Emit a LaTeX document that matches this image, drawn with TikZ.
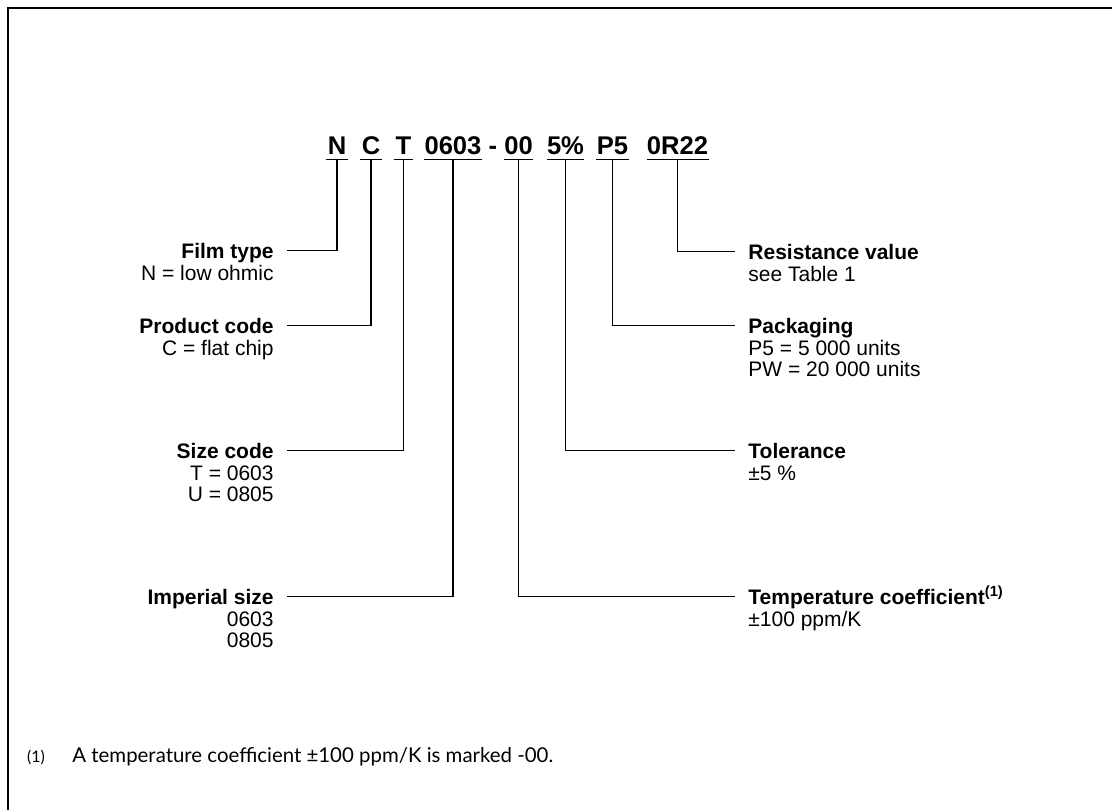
\documentclass[tikz,border=0pt]{standalone}
\usepackage{fontspec}
\setmainfont{Liberation Sans}
\newfontfamily\notefont{Lato}
\usetikzlibrary{positioning}
\begin{document}
\begin{tikzpicture}[x=0.5pt, y=-0.5pt,
    code/.style={font=\fontsize{12.8}{14}\selectfont\bfseries, inner sep=0pt, text depth=2.5pt, anchor=base},
    ttl/.style={font=\fontsize{10.5}{10.5}\selectfont\bfseries, inner xsep=6.5pt, inner ysep=0pt, text height=7.6pt, text depth=0pt},
    sub/.style={font=\fontsize{10.5}{10.5}\selectfont, inner xsep=6.5pt, inner ysep=0pt},
    lead/.style={line width=0.6pt},
]
    \useasboundingbox (0,0) rectangle (1112,810);
    % frame
    \draw[line width=1pt] (1112,8) -- (8,8) -- (8,810);

    % part number
    \node[code, minimum width=11pt] (N) at (337,154) {N};
    \node[code, minimum width=11pt] (C) at (371,154) {C};
    \node[code, minimum width=9.5pt] (T) at (403.5,154) {T};
    \node[code, minimum width=28pt] (size) at (453,154) {0603};
    \node[code] (hyph) at (493,154) {-};
    \node[code, minimum width=14.5pt] (tc) at (518.5,154) {00};
    \node[code, minimum width=17.5pt] (tol) at (565.5,154) {5\%};
    \node[code, minimum width=15.5pt] (pack) at (612.5,154) {P5};
    \node[code, minimum width=30.5pt] (res) at (677.5,154) {0R22};
    \foreach \p in {N,C,T,size,tc,tol,pack,res}
        \draw[line width=0.75pt] (\p.south west) -- (\p.south east);

    % left labels
    \node[ttl, anchor=base east] (film) at (287,258) {Film type};
    \node[sub, align=right, below left=3.4pt and 0pt of film.south east] (film-sub) {N = low ohmic};
    \node[ttl, anchor=base east] (prod) at (287,333) {Product code};
    \node[sub, align=right, below left=3.4pt and 0pt of prod.south east] (prod-sub) {C = flat chip};
    \node[ttl, anchor=base east] (sizec) at (287,458) {Size code};
    \node[sub, align=right, below left=3.4pt and 0pt of sizec.south east] (sizec-sub) {T = 0603\\U = 0805};
    \node[ttl, anchor=base east] (imp) at (287,604) {Imperial size};
    \node[sub, align=right, below left=3.4pt and 0pt of imp.south east] (imp-sub) {0603\\0805};

    % right labels
    \node[ttl, anchor=base west] (resv) at (735,259) {Resistance value};
    \node[sub, align=left, below right=3.4pt and 0pt of resv.south west] (resv-sub) {see Table 1};
    \node[ttl, anchor=base west] (packg) at (735,333) {Packaging};
    \node[sub, align=left, below right=3.4pt and 0pt of packg.south west] (packg-sub) {P5 = 5 000 units\\PW = 20 000 units};
    \node[ttl, anchor=base west] (tolr) at (735,458) {Tolerance};
    \node[sub, align=left, below right=3.4pt and 0pt of tolr.south west] (tolr-sub) {±5 \%};
    \node[ttl, anchor=base west] (temp) at (735,604) {Temperature coefficient\textsuperscript{(1)}};
    \node[sub, align=left, below right=3.4pt and 0pt of temp.south west] (temp-sub) {±100 ppm/K};

    % leaders
    \draw[lead] (N.south) |- (film.east);
    \draw[lead] (C.south) |- (prod.east);
    \draw[lead] (T.south) |- (sizec.east);
    \draw[lead] (size.south) |- (imp.east);
    \draw[lead] (res.south) |- (resv.west);
    \draw[lead] (pack.south) |- (packg.west);
    \draw[lead] (tol.south) |- (tolr.west);
    \draw[lead] (tc.south) |- (temp.west);

    % footnote
    \node[font=\notefont\fontsize{8}{9}\selectfont, anchor=base, inner sep=0pt] (note-mark) at (36,762) {(1)};
    \node[font=\notefont\fontsize{10.2}{12}\selectfont, anchor=base west, inner sep=0pt] (note) at (72,762) {A temperature coefficient ±100 ppm/K is marked -00.};
\end{tikzpicture}
\end{document}
